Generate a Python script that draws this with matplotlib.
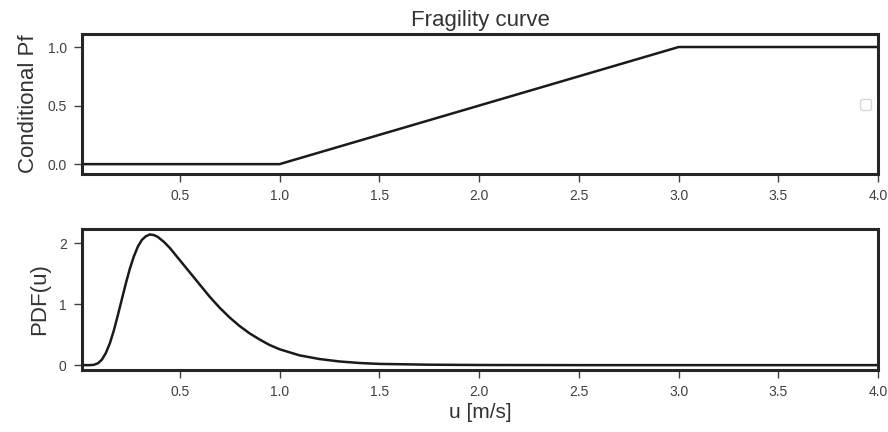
import matplotlib
matplotlib.use('Agg')
import matplotlib.pyplot as plt
import seaborn as sns

# fragility curve (piecewise linear)
frag_u = [0.01, 1.0, 3.0, 4.0]
frag_pf = [0.0, 0.0, 1.0, 1.0]

# wind-speed PDF
pdf_u = [0.01, 0.05, 0.07, 0.09, 0.11, 0.13, 0.15, 0.17, 0.19, 0.21, 0.23, 0.25, 0.27,
         0.29, 0.31, 0.33, 0.35, 0.37, 0.39, 0.42, 0.45, 0.48, 0.50, 0.55, 0.60, 0.65,
         0.70, 0.75, 0.80, 0.85, 0.90, 0.95, 1.00, 1.10, 1.20, 1.30, 1.40, 1.50, 1.75,
         2.00, 2.50, 3.00, 4.00]
pdf_val = [0.0, 0.0, 0.005, 0.03, 0.09, 0.20, 0.36, 0.57, 0.82, 1.08, 1.34, 1.58, 1.78,
           1.94, 2.05, 2.11, 2.14, 2.13, 2.10, 2.02, 1.92, 1.80, 1.72, 1.52, 1.32, 1.12,
           0.94, 0.78, 0.64, 0.52, 0.42, 0.33, 0.26, 0.16, 0.10, 0.06, 0.035, 0.02, 0.007,
           0.002, 0.0, 0.0, 0.0]

x_ticks = [0.5, 1.0, 1.5, 2.0, 2.5, 3.0, 3.5, 4.0]

sns.set_style('ticks')
plt.rcParams['font.family'] = ['Liberation Sans', 'DejaVu Sans']

fig = plt.figure(figsize=(8.88, 4.32), dpi=100)
ax1 = fig.add_axes([0.0923, 0.597, 0.8967, 0.324])
ax2 = fig.add_axes([0.0923, 0.1435, 0.8967, 0.3265])

ax1.plot(frag_u, frag_pf, color='#1a1a1a', lw=1.8)
ax1.set_xlim(0.01, 4.0)
ax1.set_ylim(-0.085, 1.11)
ax1.set_yticks([0.0, 0.5, 1.0])
ax1.set_ylabel('Conditional Pf', fontsize=16, color='#333333', labelpad=6)
ax1.set_title('Fragility curve', fontsize=16, color='#333333', pad=6)
ax1.legend(handles=[], loc='center right')

ax2.plot(pdf_u, pdf_val, color='#1a1a1a', lw=1.8)
ax2.set_xlim(0.01, 4.0)
ax2.set_ylim(-0.08, 2.23)
ax2.set_yticks([0, 1, 2])
ax2.set_ylabel('PDF(u)', fontsize=16, color='#333333', labelpad=6)
ax2.set_xlabel('u [m/s]', fontsize=15, color='#333333', labelpad=3)

for ax in (ax1, ax2):
    ax.set_xticks(x_ticks)
    ax.tick_params(labelsize=10, colors='#404040', length=6, width=1, pad=5)
    for spine in ax.spines.values():
        spine.set_linewidth(2.2)
        spine.set_color('#262626')

fig.savefig('out.png', dpi=100)
